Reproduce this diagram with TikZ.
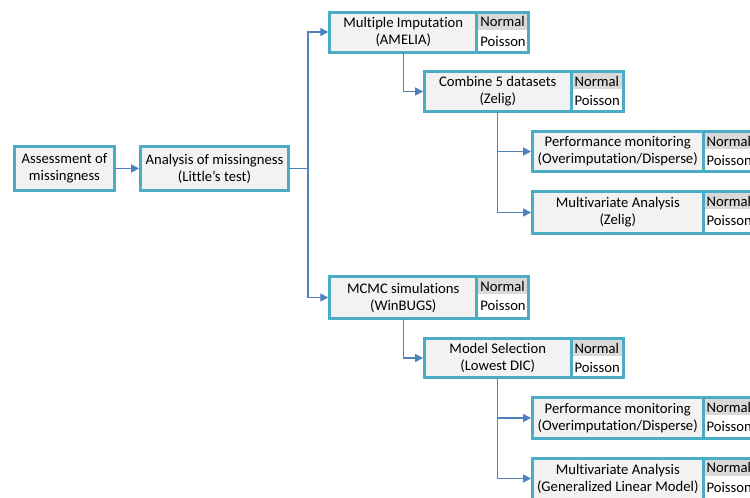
\documentclass[tikz,border=0pt]{standalone}
\usepackage{fontspec}
\setmainfont{Carlito}[Ligatures=NoCommon]
\usetikzlibrary{positioning,arrows.meta}
\definecolor{turquesa}{HTML}{4BACC6}
\definecolor{azul}{HTML}{4F81BD}
\definecolor{grisclaro}{HTML}{F2F2F2}
\definecolor{grismedio}{HTML}{D9D9D9}
\begin{document}
\begin{tikzpicture}[x=0.75pt,y=-0.75pt]

\tikzset{caja/.style={rectangle,draw=turquesa,line width=2.25pt,fill=grisclaro,outer sep=0pt,inner sep=2pt,align=center,minimum height=30pt,font=\fontsize{11}{12.75}\selectfont}}
\tikzset{marco/.style={rectangle,draw=turquesa,line width=2.25pt,fill=white,outer sep=0pt,inner sep=0pt,minimum width=39pt,minimum height=30pt}}
\tikzset{celda/.style={rectangle,inner xsep=1.5pt,inner ysep=0pt,outer sep=0pt,text width=33.75pt,align=left,minimum height=12pt,anchor=north west,font=\fontsize{11}{12.75}\selectfont}}
\tikzset{flecha/.style={-{Triangle[length=6pt,width=6pt]},draw=azul,line width=1.1pt,shorten >=1pt}}

\clip (0,0) rectangle (750,497);

% first column
\draw (64.5,168.5) node[caja,minimum width=75pt,minimum height=33pt](asses) {Assessment of\\missingness};
\draw (214.5,168.5) node[caja,minimum width=111pt,minimum height=33pt](analisis) {Analysis of missingness\\(Little’s test)};

% amelia branch
\draw (403.25,32) node[caja,minimum width=110.5pt](mi) {Multiple Imputation\\(AMELIA)};
\node[marco,right=0pt of mi](mic) {};
\node[celda,fill=grismedio](min) at ([shift={(1.125pt,-1.125pt)}]mic.north west) {Normal};
\node[celda,minimum height=13pt](mip) at ([yshift=-2.5pt]min.south west) {Poisson};

\draw (497.75,91.5) node[caja,minimum width=110pt](comb) {Combine 5 datasets\\(Zelig)};
\node[marco,right=0pt of comb](combc) {};
\node[celda,fill=grismedio](combn) at ([shift={(1.125pt,-1.125pt)}]combc.north west) {Normal};
\node[celda,minimum height=13pt](combp) at ([yshift=-2.5pt]combn.south west) {Poisson};

\draw (617.75,151.5) node[caja,minimum width=128pt](perf) {Performance monitoring\\(Overimputation/Disperse)};
\node[marco,right=0pt of perf](perfc) {};
\node[celda,fill=grismedio](perfn) at ([shift={(1.125pt,-1.125pt)}]perfc.north west) {Normal};
\node[celda,minimum height=13pt](perfp) at ([yshift=-2.5pt]perfn.south west) {Poisson};

\draw (617.75,212.5) node[caja,minimum width=128pt,minimum height=31.5pt](mvz) {Multivariate Analysis\\(Zelig)};
\node[marco,right=0pt of mvz,minimum height=31.5pt](mvzc) {};
\node[celda,fill=grismedio](mvzn) at ([shift={(1.125pt,-1.125pt)}]mvzc.north west) {Normal};
\node[celda,minimum height=13pt](mvzp) at ([yshift=-2.5pt]mvzn.south west) {Poisson};

% winbugs branch
\draw (403.25,297.5) node[caja,minimum width=110.5pt,minimum height=31.5pt](mcmc) {MCMC simulations\\(WinBUGS)};
\node[marco,right=0pt of mcmc,minimum height=31.5pt](mcmcc) {};
\node[celda,fill=grismedio](mcmcn) at ([shift={(1.125pt,-1.125pt)}]mcmcc.north west) {Normal};
\node[celda,minimum height=13pt](mcmcp) at ([yshift=-2.5pt]mcmcn.south west) {Poisson};

\draw (497.75,358) node[caja,minimum width=110pt,minimum height=29.25pt](ms) {Model Selection\\(Lowest DIC)};
\node[marco,right=0pt of ms,minimum height=29.25pt](msc) {};
\node[celda,fill=grismedio](msn) at ([shift={(1.125pt,-1.125pt)}]msc.north west) {Normal};
\node[celda,minimum height=13pt](msp) at ([yshift=-2.5pt]msn.south west) {Poisson};

\draw (617.75,418) node[caja,minimum width=128pt,minimum height=30.75pt](perfb) {Performance monitoring\\(Overimputation/Disperse)};
\node[marco,right=0pt of perfb,minimum height=30.75pt](perfbc) {};
\node[celda,fill=grismedio](perfbn) at ([shift={(1.125pt,-1.125pt)}]perfbc.north west) {Normal};
\node[celda,minimum height=13pt](perfbp) at ([yshift=-2.5pt]perfbn.south west) {Poisson};

\draw (617.75,478.5) node[caja,minimum width=128pt,minimum height=30.75pt](mvglm) {Multivariate Analysis\\(Generalized Linear Model)};
\node[marco,right=0pt of mvglm,minimum height=30.75pt](mvglmc) {};
\node[celda,fill=grismedio](mvglmn) at ([shift={(1.125pt,-1.125pt)}]mvglmc.north west) {Normal};
\node[celda,minimum height=13pt](mvglmp) at ([yshift=-2.5pt]mvglmn.south west) {Poisson};

% connectors
\coordinate (nudo) at (308,168.5);
\draw[flecha] (asses) -- (analisis);
\draw[azul,line width=1.1pt] (analisis.east) -- (nudo);
\draw[flecha] (nudo) |- (mi.west);
\draw[flecha] (nudo) |- (mcmc.west);
\draw[flecha] (mi.south) |- (comb.west);
\draw[flecha] (comb.south) |- (perf.west);
\draw[flecha] (comb.south) |- (mvz.west);
\draw[flecha] (mcmc.south) |- (ms.west);
\draw[flecha] (ms.south) |- (perfb.west);
\draw[flecha] (ms.south) |- (mvglm.west);

\end{tikzpicture}
\end{document}
